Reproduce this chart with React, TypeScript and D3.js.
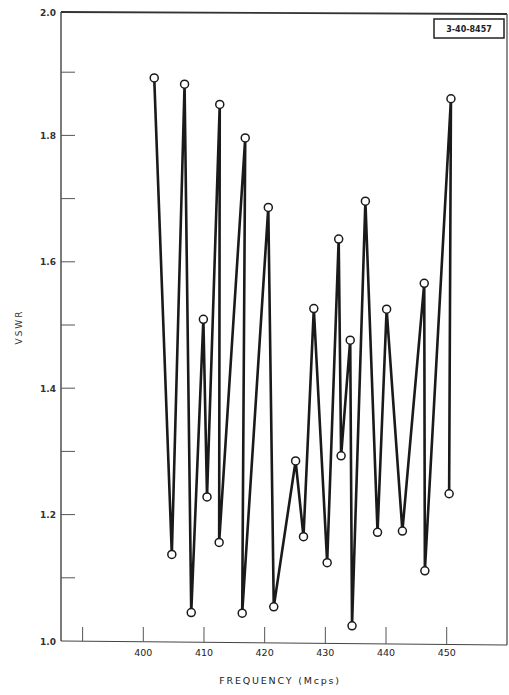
import React from "react";
import * as d3 from "d3";

const frequencies = [
  401.8, 404.7, 406.8, 407.9, 409.9, 410.5, 412.6, 412.5, 416.8, 416.3, 420.6, 421.5, 425.1, 426.4,
  428.1, 430.3, 432.2, 432.6, 434.1, 434.4, 436.6, 438.6, 440.1, 442.7, 446.3, 446.4, 450.7, 450.4,
];
const vswr = [
  1.891, 1.137, 1.881, 1.045, 1.509, 1.228, 1.849, 1.156, 1.796, 1.044, 1.686, 1.054, 1.285, 1.165,
  1.526, 1.124, 1.636, 1.293, 1.476, 1.024, 1.696, 1.172, 1.525, 1.174, 1.566, 1.111, 1.858, 1.233,
];
const xTicks = [390, 400, 410, 420, 430, 440, 450];
const xTickLabels = ["", "400", "410", "420", "430", "440", "450"];
const yTicks = [1.0, 1.1, 1.2, 1.3, 1.4, 1.5, 1.6, 1.7, 1.8, 1.9, 2.0];
const yTickLabels = ["1.0", "", "1.2", "", "1.4", "", "1.6", "", "1.8", "", "2.0"];
const xTitle = "FREQUENCY (Mcps)";
const yTitle = "VSWR";
const stamp = "3-40-8457";

export default function App() {
  const W = 509, H = 695;
  const left = 61, right = 507, top = 12, bottom = 641;
  const x = d3.scaleLinear().domain([400, 450]).range([143.3, 446.7]);
  const y = d3.scaleLinear().domain([1.0, 2.0]).range([641, 9]);
  const pts = frequencies.map((f, i) => [x(f), y(vswr[i])] as [number, number]);
  const line = d3.line<[number, number]>()(pts) || "";
  const ink = "#1a1a1a";
  const font = "'DejaVu Sans', sans-serif";
  return (
    <svg width={W} height={H} style={{ position: "absolute", left: 0, top: 0, background: "#fff" }}>
      <rect x={0} y={0} width={W} height={H} fill="#fff" />
      {/* frame */}
      <line x1={left} y1={top} x2={right} y2={top + 2} stroke="#333" strokeWidth={1.8} />
      <line x1={right} y1={top + 2} x2={right} y2={bottom + 4} stroke="#444" strokeWidth={1.2} />
      <line x1={left} y1={top} x2={left} y2={bottom} stroke="#333" strokeWidth={1.3} />
      <line x1={left} y1={bottom} x2={right} y2={bottom + 4} stroke="#444" strokeWidth={1.2} />
      {/* y ticks */}
      {yTicks.map((t, i) => (
        <g key={"y" + i}>
          {t > 1.0 && t < 2.0 && (
            <line x1={left} x2={left + 14} y1={y(t)} y2={y(t)} stroke="#555" strokeWidth={1} />
          )}
          {yTickLabels[i] && (
            <text x={left - 5} y={t === 2.0 ? top + 4 : y(t) + 3.5} textAnchor="end" fontFamily={font}
              fontSize={9} fontWeight="bold" fill="#333">{yTickLabels[i]}</text>
          )}
        </g>
      ))}
      {/* x ticks */}
      {xTicks.map((t, i) => (
        <g key={"x" + i}>
          <line x1={x(t)} x2={x(t)} y1={bottom - 14} y2={bottom + (x(t) - left) / (right - left) * 4} stroke="#555" strokeWidth={1} />
          {xTickLabels[i] && (
            <text x={x(t)} y={656} textAnchor="middle" fontFamily={font} fontSize={9.5} fill="#222">{xTickLabels[i]}</text>
          )}
        </g>
      ))}
      {/* titles */}
      <text x={280} y={684} textAnchor="middle" fontFamily={font} fontSize={9.5} letterSpacing={1.8} fill="#222">{xTitle}</text>
      <text transform="translate(22,327) rotate(-90)" textAnchor="middle" fontFamily={font} fontSize={9} letterSpacing={2} fill="#333">{yTitle}</text>
      {/* stamp */}
      <rect x={434} y={19} width={70} height={19} fill="#fff" stroke="#222" strokeWidth={1.5} />
      <text x={469} y={32} textAnchor="middle" fontFamily={font} fontSize={8} fontWeight="bold" fill="#222">{stamp}</text>
      {/* data */}
      <path d={line} fill="none" stroke={ink} strokeWidth={2.6} strokeLinejoin="round" />
      {pts.map((p, i) => (
        <circle key={i} cx={p[0]} cy={p[1]} r={4} fill="#fff" stroke={ink} strokeWidth={1.5} />
      ))}
    </svg>
  );
}
